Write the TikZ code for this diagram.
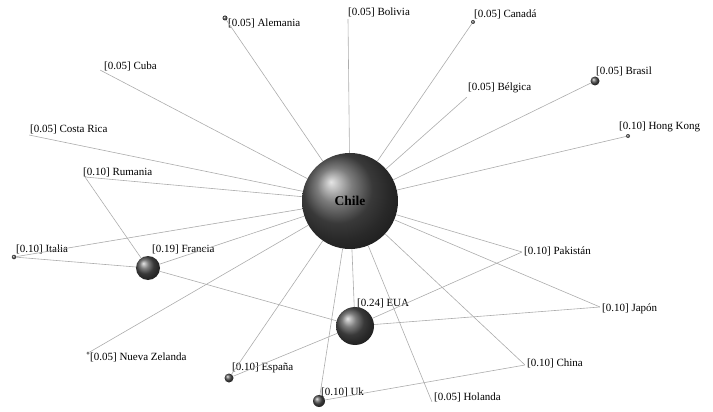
\documentclass[tikz,border=0pt]{standalone}
\usepackage{fontspec}
\setmainfont{Liberation Serif}
\usetikzlibrary{positioning}
\tikzset{
  link/.style={draw=gray!65,line width=0.6pt},
  bubble/.style={circle,inner sep=0pt,ball color=black!68,minimum size=#1},
  spot/.style={circle,inner sep=0pt,minimum size=0pt},
  tag/.style={anchor=west,inner sep=0pt,font=\fontsize{11}{13}\selectfont}
}
\begin{document}
\begin{tikzpicture}[x=1pt,y=-1pt]
  \useasboundingbox (0,0) rectangle (713,412);
  % countries
  \node[bubble=96pt,font=\bfseries\fontsize{13.5}{15}\selectfont] (chile) at (350,201) {Chile};
  \node[bubble=38pt] (eua) at (355,326) {};
  \node[bubble=24pt] (francia) at (148,268) {};
  \node[bubble=12pt] (uk) at (319,401) {};
  \node[bubble=9pt] (espana) at (229,378) {};
  \node[bubble=9pt] (brasil) at (595,81) {};
  \node[bubble=5pt] (alemania) at (225,18) {};
  \node[bubble=4pt] (canada) at (473,22) {};
  \node[bubble=4pt] (hongkong) at (628,136) {};
  \node[bubble=4.5pt] (italia) at (14,257) {};
  \node[bubble=3pt] (nuevazelanda) at (88,353) {};
  \node[spot] (bolivia) at (348,19) {};
  \node[spot] (cuba) at (100,70) {};
  \node[spot] (costarica) at (29,135) {};
  \node[spot] (rumania) at (85,177) {};
  \node[spot] (belgica) at (467,97) {};
  \node[spot] (pakistan) at (522,252) {};
  \node[spot] (japon) at (600,307) {};
  \node[spot] (china) at (525,365) {};
  \node[spot] (holanda) at (432,402) {};
  % labels
  \node[tag] (eua-tag) at (357,303) {[0.24] EUA};
  \node[tag] (francia-tag) at (152,249) {[0.19] Francia};
  \node[tag] (uk-tag) at (321,392) {[0.10] Uk};
  \node[tag] (espana-tag) at (232,368) {[0.10] España};
  \node[tag] (brasil-tag) at (596,71) {[0.05] Brasil};
  \node[tag] (alemania-tag) at (228,23) {[0.05] Alemania};
  \node[tag] (canada-tag) at (474,14) {[0.05] Canadá};
  \node[tag] (hongkong-tag) at (619,127) {[0.10] Hong Kong};
  \node[tag] (italia-tag) at (16,249) {[0.10] Italia};
  \node[tag] (nuevazelanda-tag) at (90,357) {[0.05] Nueva Zelanda};
  \node[tag] (bolivia-tag) at (348,12) {[0.05] Bolivia};
  \node[tag] (cuba-tag) at (104,66) {[0.05] Cuba};
  \node[tag] (costarica-tag) at (30,129) {[0.05] Costa Rica};
  \node[tag] (rumania-tag) at (83,172) {[0.10] Rumania};
  \node[tag] (belgica-tag) at (468,88) {[0.05] Bélgica};
  \node[tag] (pakistan-tag) at (524,251) {[0.10] Pakistán};
  \node[tag] (japon-tag) at (602,309) {[0.10] Japón};
  \node[tag] (china-tag) at (527,363) {[0.10] China};
  \node[tag] (holanda-tag) at (434,397) {[0.05] Holanda};
  % links
  \foreach \c in {alemania,bolivia,canada,cuba,belgica,brasil,costarica,hongkong,
    rumania,italia,francia,nuevazelanda,espana,uk,eua,holanda,china,japon,pakistan}
    \draw[link] (chile) -- (\c);
  \draw[link] (rumania) -- (francia);
  \draw[link] (italia) -- (francia);
  \draw[link] (francia) -- (eua);
  \draw[link] (eua) -- (pakistan);
  \draw[link] (eua) -- (japon);
  \draw[link] (eua) -- (espana);
  \draw[link] (uk) -- (china);
\end{tikzpicture}
\end{document}
